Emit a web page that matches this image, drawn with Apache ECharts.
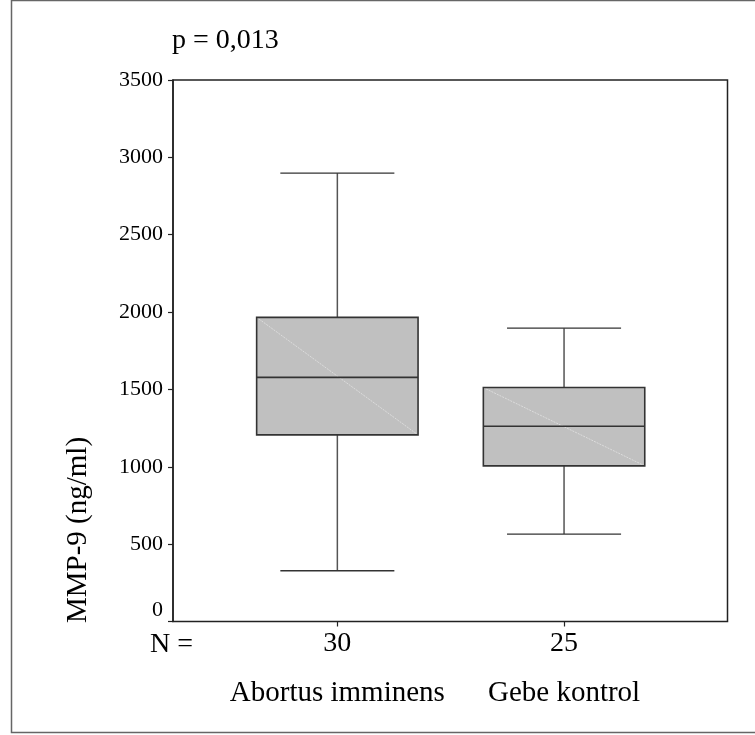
<!DOCTYPE html>
<html>
<head>
<meta charset="utf-8">
<script src="https://cdn.jsdelivr.net/npm/echarts@6/dist/echarts.min.js"></script>
<style>html,body{margin:0;padding:0;background:#fff;}#c{width:755px;height:735px;}</style>
</head>
<body>
<div id="c"></div>
<script>
// ---- data ----
var groupNames = ['Abortus imminens', 'Gebe kontrol'];
var groupN = ['30', '25'];
// [min, Q1, median, Q3, max]
var boxValues = [
  [328, 1206, 1578, 1966, 2898],
  [565, 1006, 1262, 1512, 1896]
];
var yTicks = { min: 0, max: 3500, step: 500 };
var pText = 'p = 0,013';
var yTitle = 'MMP-9 (ng/ml)';
var nLabel = 'N =';

var FONT = '"Liberation Serif", "Times New Roman", serif';
var chart = echarts.init(document.getElementById('c'));

var customData = boxValues.map(function (v, i) { return [i].concat(v); });

chart.setOption({
  animation: false,
  backgroundColor: '#fff',
  grid: [
    { left: 173, top: 80, right: 27.5, bottom: 113.5, show: true, borderColor: '#222', borderWidth: 1.5, backgroundColor: 'transparent' },
    { left: 224, top: 80, right: 77.6, bottom: 113.5 }
  ],
  xAxis: [
    { gridIndex: 0, type: 'value', show: false, min: 0, max: 1 },
    { gridIndex: 1, type: 'category', data: groupN, position: 'bottom',
      axisLine: { show: false },
      axisTick: { show: true, alignWithLabel: true, length: 5, lineStyle: { color: '#222', width: 1.2 } },
      axisLabel: { color: '#000', fontFamily: FONT, fontSize: 28, margin: 8, interval: 0 } },
    { gridIndex: 1, type: 'category', data: groupNames, position: 'bottom', offset: 49,
      axisLine: { show: false }, axisTick: { show: false },
      axisLabel: { color: '#000', fontFamily: FONT, fontSize: 29, margin: 8, interval: 0 } }
  ],
  yAxis: [
    { gridIndex: 0, type: 'value', min: yTicks.min, max: yTicks.max, interval: yTicks.step,
      axisLine: { show: true, lineStyle: { color: '#222', width: 1.5 } },
      axisTick: { show: true, length: 5, lineStyle: { color: '#222', width: 1.2 } },
      splitLine: { show: false },
      axisLabel: { color: '#000', fontFamily: FONT, fontSize: 22, margin: 10,
        formatter: function (v) { return v === yTicks.min ? '{z|' + v + '}' : String(v); },
        rich: { z: { fontFamily: FONT, fontSize: 22, color: '#000', padding: [0, 0, 22, 0] } } } },
    { gridIndex: 1, type: 'value', min: yTicks.min, max: yTicks.max, interval: yTicks.step, show: false }
  ],
  series: [{
    type: 'custom',
    xAxisIndex: 1,
    yAxisIndex: 1,
    data: customData,
    encode: { x: 0, y: [1, 2, 3, 4, 5] },
    renderItem: function (params, api) {
      var idx = api.value(0);
      var pMin = api.coord([idx, api.value(1)]);
      var pQ1 = api.coord([idx, api.value(2)]);
      var pMed = api.coord([idx, api.value(3)]);
      var pQ3 = api.coord([idx, api.value(4)]);
      var pMax = api.coord([idx, api.value(5)]);
      var bw = api.size([1, 0])[0] * 0.712;
      var cw = api.size([1, 0])[0] * 0.503;
      var cx = pMed[0];
      var wl = { stroke: '#333', lineWidth: 1.3 };
      return {
        type: 'group',
        children: [
          { type: 'line', shape: { x1: cx, y1: pMax[1], x2: cx, y2: pQ3[1] }, style: { stroke: '#555', lineWidth: 1.5 } },
          { type: 'line', shape: { x1: cx, y1: pQ1[1], x2: cx, y2: pMin[1] }, style: { stroke: '#555', lineWidth: 1.5 } },
          { type: 'line', shape: { x1: cx - cw / 2, y1: pMax[1], x2: cx + cw / 2, y2: pMax[1] }, style: wl },
          { type: 'line', shape: { x1: cx - cw / 2, y1: pMin[1], x2: cx + cw / 2, y2: pMin[1] }, style: wl },
          { type: 'rect', shape: { x: cx - bw / 2, y: pQ3[1], width: bw, height: pQ1[1] - pQ3[1] }, style: { fill: '#c0c0c0', stroke: null } },
          { type: 'line', shape: { x1: cx - bw / 2, y1: pQ3[1], x2: cx + bw / 2, y2: pQ1[1] }, style: { stroke: '#dcdcdc', lineWidth: 1, lineDash: [2, 1] } },
          { type: 'line', shape: { x1: cx - bw / 2, y1: pMed[1], x2: cx + bw / 2, y2: pMed[1] }, style: { stroke: '#333', lineWidth: 1.6 } },
          { type: 'rect', shape: { x: cx - bw / 2, y: pQ3[1], width: bw, height: pQ1[1] - pQ3[1] }, style: { fill: null, stroke: '#333', lineWidth: 1.6 } }
        ]
      };
    }
  }],
  graphic: [
    { type: 'rect', shape: { x: 11.5, y: 0.5, width: 760, height: 732 }, style: { fill: null, stroke: '#666', lineWidth: 1.5 }, silent: true },
    { type: 'text', style: { text: pText, x: 172, y: 41, font: '28px ' + FONT, fill: '#000', textAlign: 'left', textVerticalAlign: 'middle' } },
    { type: 'text', style: { text: nLabel, x: 150, y: 645, font: '28px ' + FONT, fill: '#000', textAlign: 'left', textVerticalAlign: 'middle' } },
    { type: 'text', rotation: Math.PI / 2, x: 78, y: 530, style: { text: yTitle, x: 0, y: 0, font: '29px ' + FONT, fill: '#000', textAlign: 'center', textVerticalAlign: 'middle' } }
  ]
});
</script>
</body>
</html>
